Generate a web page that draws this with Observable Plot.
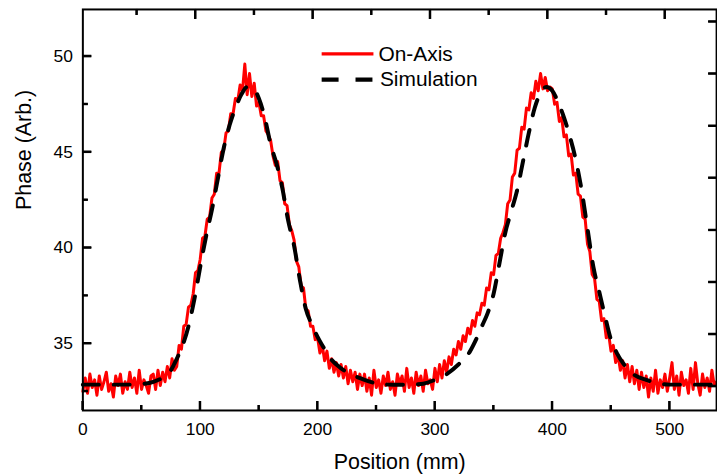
<!DOCTYPE html>
<html><head><meta charset="utf-8">
<script src="https://cdn.jsdelivr.net/npm/d3@7"></script>
<script src="https://cdn.jsdelivr.net/npm/@observablehq/plot@0.6"></script>
<style>
html,body{margin:0;padding:0;background:#fff;overflow:hidden;}
#chart{position:relative;width:717px;height:474px;overflow:hidden;}
</style></head><body><div id="chart"></div>
<script>
// ---- data ----
const seriesNames = ["On-Axis", "Simulation"];
const xTitle = "Position (mm)";
const yTitle = "Phase (Arb.)";
const xMajor = [0, 100, 200, 300, 400, 500];
const xMinor = [50, 150, 250, 350, 450];
const xTopMajor = [96, 196, 296, 396, 496];
const xTopMinor = [46, 146, 246, 346, 446];
const yMajor = [35, 40, 45, 50];
const yMinor = [32.5, 37.5, 42.5, 47.5];
const yRightTicks = [51.81, 49.09, 46.36, 43.65, 40.92, 38.20, 35.48, 32.76];

// On-Axis measurement, sampled every 2 mm from 0 to 540 mm
const onAxisStep = 2;
const onAxisPhase = [
 32.5,33.2,32.4,33.4,32.7,33.1,32.3,33.3,32.6,33.0,
 33.5,32.5,32.9,32.2,33.3,32.8,33.4,32.4,33.0,32.6,
 33.5,32.7,33.2,32.4,33.6,32.6,33.1,32.8,32.4,33.3,
 33.4,32.6,33.6,32.8,33.5,33.0,33.8,33.2,34.2,33.6,
 33.8,34.9,34.7,35.9,36.0,36.9,37.0,37.6,38.7,38.8,
 39.4,40.5,40.6,41.5,41.6,42.6,42.8,43.9,43.9,45.0,
 45.1,46.0,46.1,47.0,47.0,47.8,47.7,48.5,48.2,49.6,
 48.0,49.1,47.9,48.6,47.4,47.6,46.9,46.9,46.1,45.9,
 45.6,44.8,44.3,44.5,43.5,43.4,42.3,42.2,41.2,40.9,
 40.4,39.3,39.0,38.0,37.9,36.8,36.7,35.9,35.9,35.2,
 35.3,34.5,34.9,34.1,34.6,33.7,34.2,33.5,34.0,33.3,
 33.9,33.2,33.8,32.9,33.6,33.0,33.5,32.6,33.4,32.8,
 33.4,32.5,33.2,32.3,33.6,32.7,33.1,32.4,33.3,32.8,
 33.5,32.6,33.0,32.3,33.4,32.9,33.3,32.5,33.7,32.7,
 33.2,32.4,33.5,32.8,33.3,32.5,33.6,32.9,33.1,32.6,
 33.7,33.0,33.9,33.2,34.1,33.5,34.3,33.9,34.7,34.4,
 35.1,34.7,35.4,35.1,35.8,35.5,36.2,35.9,36.6,36.5,
 37.1,37.0,37.9,37.8,38.7,38.6,39.6,39.7,40.5,40.8,
 41.2,42.3,42.5,43.7,43.9,45.1,45.2,46.3,46.2,47.3,
 47.2,48.1,47.8,48.7,48.2,49.1,48.3,48.9,48.2,48.4,
 48.3,47.5,47.6,46.6,46.8,45.8,45.9,44.8,44.9,43.8,
 43.9,42.8,42.7,41.6,41.5,40.2,39.8,38.6,38.4,37.3,
 37.2,36.2,36.3,35.3,35.5,34.6,34.9,34.0,34.4,33.6,
 34.1,33.2,33.9,33.0,33.8,32.9,33.6,32.6,33.5,32.7,
 33.3,32.2,33.2,32.5,33.6,32.4,33.1,32.7,33.4,32.5,
 33.2,34.0,32.6,33.3,32.3,33.5,32.8,33.1,32.4,33.7,
 32.6,34.0,32.9,32.3,33.4,32.7,33.2,32.5,33.6,32.8,
 33.0
];

// Simulation curve
const simX = [0,10,20,30,40,50,60,70,
 75,80,85,90,95,100,105,110,115,120,125,130,135,140,145,150,155,160,165,170,175,180,185,190,195,200,205,210,
 220,230,240,250,260,270,280,290,300,310,320,330,
 335,340,345,350,355,360,365,370,375,380,385,390,395,400,405,410,415,420,425,430,435,440,445,450,455,460,
 470,480,490,500,510,520,530,540];
const simY = [32.85,32.85,32.85,32.85,32.85,32.88,33.0,33.3,
 33.6,34.2,34.9,35.9,37.3,39.0,40.6,42.0,43.6,45.2,46.4,47.3,48.0,48.4,48.35,47.8,46.8,45.4,44.4,43.1,41.4,40.1,38.3,36.8,36.0,35.35,34.8,34.3,
 33.7,33.35,33.1,32.92,32.85,32.84,32.85,32.9,33.1,33.4,33.9,34.6,
 35.2,35.9,36.6,37.6,39.2,40.8,41.9,43.0,44.5,46.0,47.3,48.1,48.4,48.2,47.6,46.8,45.8,44.6,43.0,41.0,39.0,37.7,36.4,35.2,34.5,34.0,
 33.35,33.1,32.92,32.85,32.85,32.85,32.85,32.85];

// ---- build tables ----
const onAxis = onAxisPhase.map((v, i) => ({x: i * onAxisStep, y: v}));
const sim = simX.map((x, i) => ({x, y: simY[i]}));

const FONT = "'Liberation Sans', Arial, Helvetica, sans-serif";
const W = 720, H = 474, ML = 82.7, MR = 0.9, MT = 9, MB = 62.3;
const innerW = W - ML - MR, innerH = H - MT - MB;
const tk = {stroke: "#000", strokeWidth: 2};
const bottomTicks = (d, len) => Plot.tickX(d, {x: v => v, ...tk, insetTop: innerH - len});
const topTicks = (d, len) => Plot.tickX(d, {x: v => v, ...tk, insetBottom: innerH - len});
const leftTicks = (d, len) => Plot.tickY(d, {y: v => v, ...tk, insetRight: innerW - len});
const rightTicks = (d, len) => Plot.tickY(d, {y: v => v, ...tk, insetLeft: innerW - len});

const svg = Plot.plot({
  width: W, height: H,
  marginLeft: ML, marginRight: MR, marginTop: MT, marginBottom: MB,
  style: {fontFamily: FONT, fontSize: "17.5px", color: "#000", background: "#fff", overflow: "visible"},
  x: {domain: [0, 540]},
  y: {domain: [31.5, 52.45]},
  marks: [
    Plot.line(onAxis, {x: "x", y: "y", stroke: "#ff0000", strokeWidth: 3, strokeLinejoin: "round"}),
    Plot.line(sim, {x: "x", y: "y", stroke: "#000", strokeWidth: 4, strokeDasharray: "16,15", curve: "monotone-x"}),
    Plot.frame({stroke: "#000", strokeWidth: 2}),
    bottomTicks(xMajor, 9), bottomTicks(xMinor, 5),
    topTicks(xTopMajor, 10), topTicks(xTopMinor, 6),
    leftTicks(yMajor, 9), leftTicks(yMinor, 5.5),
    rightTicks(yRightTicks, 8),
    Plot.axisX(xMajor, {anchor: "bottom", tickSize: 0, tickPadding: 12, fontSize: 17.5, label: null}),
    Plot.axisY(yMajor, {anchor: "left", tickSize: 0, tickPadding: 10, fontSize: 17.5, label: null}),
    Plot.text([xTitle], {text: d => d, frameAnchor: "bottom", dy: 52, fontSize: 21.5, lineAnchor: "middle", fill: "#000"}),
    Plot.text([yTitle], {text: d => d, frameAnchor: "left", dx: -58.7, rotate: -90, fontSize: 21.5, lineAnchor: "middle", fill: "#000"})
  ]
});
document.getElementById("chart").appendChild(svg);

// ---- legend (inside the plot area) ----
const lg = d3.select(svg).append("g")
  .attr("font-family", FONT).attr("font-size", 21).attr("text-anchor", "start");
lg.append("line").attr("x1", 323).attr("x2", 375).attr("y1", 54).attr("y2", 54)
  .attr("stroke", "#ff0000").attr("stroke-width", 3.3);
lg.append("text").attr("x", 380).attr("y", 61.7).attr("fill", "#000").text(seriesNames[0]);
lg.append("line").attr("x1", 323).attr("x2", 374).attr("y1", 80).attr("y2", 80)
  .attr("stroke", "#000").attr("stroke-width", 4.3).attr("stroke-dasharray", "17,17");
lg.append("text").attr("x", 381.5).attr("y", 86.7).attr("fill", "#000").text(seriesNames[1]);

// ---- inward ticks again as directly styled paths, positioned with Plot's own scales ----
const sx = svg.scale("x"), sy = svg.scale("y");
const xs = sx.domain.map(v => sx.apply(v)), ys = sy.domain.map(v => sy.apply(v));
const xLeft = Math.min(...xs), xRight = Math.max(...xs);
const yTop = Math.min(...ys), yBottom = Math.max(...ys);
let d = "";
const addX = (vals, len, top) => vals.forEach(v => {
  const px = sx.apply(v);
  d += top ? `M${px},${yTop}V${yTop + len}` : `M${px},${yBottom}V${yBottom - len}`;
});
const addY = (vals, len, right) => vals.forEach(v => {
  const py = sy.apply(v);
  d += right ? `M${xRight},${py}H${xRight - len}` : `M${xLeft},${py}H${xLeft + len}`;
});
addX(xMajor, 9, false); addX(xMinor, 5, false);
addX(xTopMajor, 10, true); addX(xTopMinor, 6, true);
addY(yMajor, 9, false); addY(yMinor, 5.5, false);
addY(yRightTicks, 8, true);
d3.select(svg).append("path").attr("d", d)
  .attr("fill", "none").attr("stroke", "#000").attr("stroke-width", 2);
</script></body></html>
